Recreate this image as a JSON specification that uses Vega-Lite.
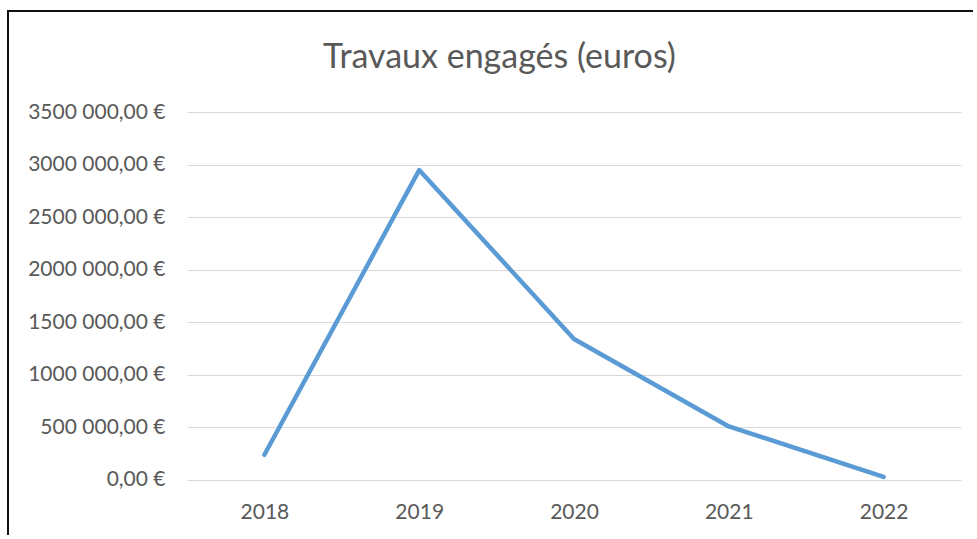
{
  "$schema": "https://vega.github.io/schema/vega-lite/v6.json",
  "autosize": "none",
  "width": 969,
  "height": 528,
  "padding": {"left": 8, "top": 11, "right": -4, "bottom": -4},
  "background": "white",
  "title": {
    "text": "Travaux engagés (euros)",
    "font": "Lato",
    "fontSize": 34,
    "fontWeight": "normal",
    "color": "#595959",
    "anchor": "middle",
    "frame": "group",
    "baseline": "alphabetic",
    "offset": -91,
    "dx": 7
  },
  "config": {
    "view": {"stroke": "#111111", "strokeWidth": 2},
    "font": "Lato"
  },
  "data": {
    "values": [
      {"annee": "2018", "montant": 240000},
      {"annee": "2019", "montant": 2950000},
      {"annee": "2020", "montant": 1342000},
      {"annee": "2021", "montant": 510000},
      {"annee": "2022", "montant": 30000}
    ]
  },
  "mark": {"type": "line", "color": "#5B9BD5", "strokeWidth": 4.5, "strokeCap": "round", "strokeJoin": "round"},
  "encoding": {
    "x": {
      "field": "annee",
      "type": "ordinal",
      "scale": {"type": "point", "range": [179, 953], "padding": 0.5},
      "axis": {
        "title": null,
        "orient": "bottom",
        "offset": -59,
        "domain": false,
        "ticks": false,
        "grid": false,
        "labelAngle": 0,
        "labelFont": "Lato",
        "labelFontSize": 21,
        "labelColor": "#595959",
        "labelPadding": 21
      }
    },
    "y": {
      "field": "montant",
      "type": "quantitative",
      "scale": {"domain": [-561600, 4464200], "nice": false, "zero": false},
      "axis": {
        "title": null,
        "offset": -179,
        "values": [0, 500000, 1000000, 1500000, 2000000, 2500000, 3000000, 3500000],
        "labelExpr": "datum.value == 0 ? '0,00 €' : format(datum.value / 1000, 'd') + ' 000,00 €'",
        "domain": false,
        "ticks": false,
        "grid": true,
        "gridColor": "#D9D9D9",
        "gridWidth": 1,
        "labelFont": "Lato",
        "labelFontSize": 21,
        "labelColor": "#595959",
        "labelPadding": 22
      }
    }
  }
}
